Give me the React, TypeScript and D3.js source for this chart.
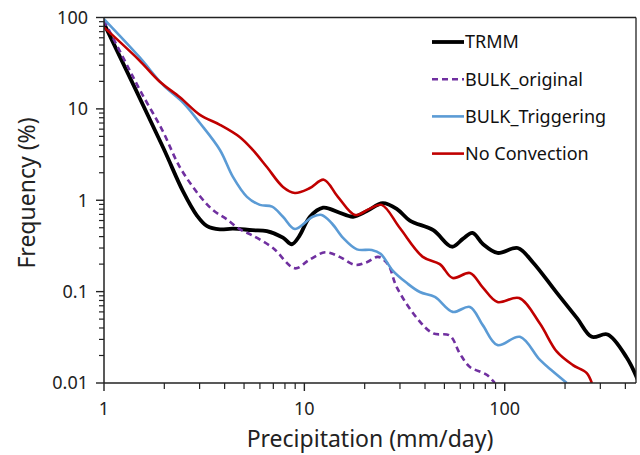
import React from "react";
import * as d3 from "d3";

// precipitation (mm/day) vs frequency (%)
const trmm: [number, number][] = [
  [1, 86], [1.97, 3.8], [2.48, 1.25], [2.91, 0.68], [3.27, 0.52], [3.79, 0.48],
  [4.4, 0.49], [5.5, 0.47], [6.5, 0.46], [7.82, 0.39], [8.66, 0.33], [9.4, 0.4], [10.66, 0.66],
  [12.4, 0.83], [13.5, 0.8], [15, 0.73], [17.5, 0.66], [20.5, 0.76], [24.6, 0.93], [29, 0.8],
  [33.6, 0.6], [44, 0.47], [54.5, 0.31], [62, 0.38], [69, 0.44], [78, 0.33], [92, 0.265],
  [116, 0.3], [138, 0.21], [180, 0.1], [230, 0.051], [272, 0.032], [326, 0.034], [406, 0.019],
  [460, 0.011],
];

const bulkOriginal: [number, number][] = [
  [1, 93], [1.25, 36], [1.51, 16.1], [1.95, 5.9], [2.39, 2.31], [3.0, 1.12], [3.5, 0.78],
  [4.1, 0.62], [4.77, 0.48], [5.53, 0.41], [6.97, 0.3], [8.97, 0.18], [10.5, 0.22], [12.7, 0.27],
  [15, 0.24], [17.9, 0.196], [20.5, 0.21], [23.3, 0.24], [26.1, 0.2], [28.9, 0.112],
  [36.4, 0.0515], [43.8, 0.035], [53.2, 0.033], [59.7, 0.021], [67, 0.015], [81.3, 0.0123],
  [89.2, 0.01],
];

const bulkTriggering: [number, number][] = [
  [1, 96], [1.5, 37], [1.97, 18.3], [2.5, 11.5], [3.01, 7.0], [3.79, 3.55], [4.4, 1.8],
  [5.17, 1.09], [6.0, 0.89], [6.9, 0.85], [7.82, 0.66], [8.97, 0.485], [11.0, 0.66], [12.2, 0.69],
  [13.7, 0.56], [15.6, 0.387], [18.3, 0.29], [21.7, 0.286], [24, 0.26], [27.6, 0.17],
  [32.5, 0.124], [37.7, 0.099], [44.8, 0.0875], [55, 0.06], [67, 0.068], [77.7, 0.043],
  [92, 0.026], [119, 0.032], [149.5, 0.018], [173, 0.0135], [204, 0.01],
];

const noConvection: [number, number][] = [
  [1, 78], [1.5, 34], [1.9, 19.8], [2.4, 13.3], [3.01, 8.6], [3.79, 6.7], [4.77, 4.9],
  [5.53, 3.55], [6.5, 2.31], [7.82, 1.4], [8.97, 1.2], [10.66, 1.36], [12.5, 1.68], [14.7, 1.09],
  [17.9, 0.69], [21, 0.8], [24.3, 0.89], [29.9, 0.5], [39, 0.24], [47.4, 0.2], [55, 0.141],
  [67, 0.16], [78, 0.11], [92, 0.077], [118, 0.085], [149.5, 0.045], [182, 0.022],
  [218, 0.0158], [256, 0.0129], [272, 0.01],
];

const seriesNames = ["TRMM", "BULK_original", "BULK_Triggering", "No Convection"];
const seriesData = [trmm, bulkOriginal, bulkTriggering, noConvection];
const seriesColors = ["#000000", "#7030A0", "#5B9BD5", "#C00000"];
const seriesWidths = [3.8, 2.6, 2.6, 2.6];
const seriesDash = [null, "6,4", null, null];

const xTickLabels = [1, 10, 100];
const yTickLabels = [0.01, 0.1, 1, 10, 100];

const W = 640;
const H = 455;
const FONT = "'Noto Sans', 'Open Sans', sans-serif";

export default function App() {
  const left = 104, right = 636, top = 17.5, bottom = 383;
  const x = d3.scaleLog().domain([1, 452]).range([left, right]);
  const y = d3.scaleLog().domain([0.01, 100]).range([bottom, top]);

  const line = d3
    .line<[number, number]>()
    .x((d) => x(d[0]))
    .y((d) => y(d[1]))
    .curve(d3.curveCatmullRom.alpha(0.5));

  // minor ticks 2..9 per decade
  const xMinor: number[] = [];
  for (const dec of [1, 10, 100]) {
    for (let k = 2; k <= 9; k++) if (dec * k <= 452) xMinor.push(dec * k);
  }
  const yMinor: number[] = [];
  for (const dec of [0.01, 0.1, 1, 10]) {
    for (let k = 2; k <= 9; k++) yMinor.push(dec * k);
  }

  return (
    <svg
      width={W}
      height={H}
      style={{ position: "absolute", left: 0, top: 0, background: "#fff" }}
      fontFamily={FONT}
    >
      <defs>
        <clipPath id="plot">
          <rect x={left} y={top} width={right - left} height={bottom - top} />
        </clipPath>
      </defs>

      {/* series */}
      <g clipPath="url(#plot)">
        {seriesData.map((d, i) => (
          <path
            key={seriesNames[i]}
            d={line(d) || ""}
            fill="none"
            stroke={seriesColors[i]}
            strokeWidth={seriesWidths[i]}
            strokeDasharray={seriesDash[i] || undefined}
            strokeLinejoin="round"
          />
        ))}
      </g>

      {/* frame */}
      <line x1={left} x2={right} y1={top} y2={top} stroke="#222" strokeWidth={1.3} />
      <line x1={right} x2={right} y1={top} y2={bottom} stroke="#222" strokeWidth={1.3} />
      <line x1={left} x2={left} y1={top} y2={bottom} stroke="#222" strokeWidth={1.5} />
      <line x1={left} x2={right} y1={bottom} y2={bottom} stroke="#222" strokeWidth={1.5} />

      {/* x ticks */}
      {xMinor.map((v) => (
        <line key={"xm" + v} x1={x(v)} x2={x(v)} y1={bottom} y2={bottom + 6} stroke="#222" strokeWidth={1.2} />
      ))}
      {xTickLabels.map((v) => (
        <g key={"x" + v}>
          <line x1={x(v)} x2={x(v)} y1={bottom} y2={bottom + 8} stroke="#222" strokeWidth={1.4} />
          <text x={x(v)} y={415} textAnchor="middle" fontSize={18} fill="#222">
            {v}
          </text>
        </g>
      ))}

      {/* y ticks */}
      {yMinor.map((v) => (
        <line key={"ym" + v} x1={left - 5} x2={left} y1={y(v)} y2={y(v)} stroke="#222" strokeWidth={1.2} />
      ))}
      {yTickLabels.map((v) => (
        <g key={"y" + v}>
          <line x1={left - 8} x2={left} y1={y(v)} y2={y(v)} stroke="#222" strokeWidth={1.4} />
          <text x={88} y={y(v)} dy="0.36em" textAnchor="end" fontSize={18} fill="#222">
            {v}
          </text>
        </g>
      ))}

      {/* axis titles */}
      <text x={370} y={447} textAnchor="middle" fontSize={23} fill="#222">
        Precipitation (mm/day)
      </text>
      <text
        transform={`translate(35,193) rotate(-90)`}
        textAnchor="middle"
        fontSize={23}
        fill="#222"
      >
        Frequency (%)
      </text>

      {/* legend */}
      {seriesNames.map((name, i) => {
        const ly = 42 + i * 37.2;
        return (
          <g key={"lg" + name}>
            <line
              x1={432}
              x2={464}
              y1={ly}
              y2={ly}
              stroke={seriesColors[i]}
              strokeWidth={seriesWidths[i]}
              strokeDasharray={seriesDash[i] || undefined}
            />
            <text x={465} y={ly} dy="0.36em" fontSize={18} fill="#111">
              {name}
            </text>
          </g>
        );
      })}
    </svg>
  );
}
